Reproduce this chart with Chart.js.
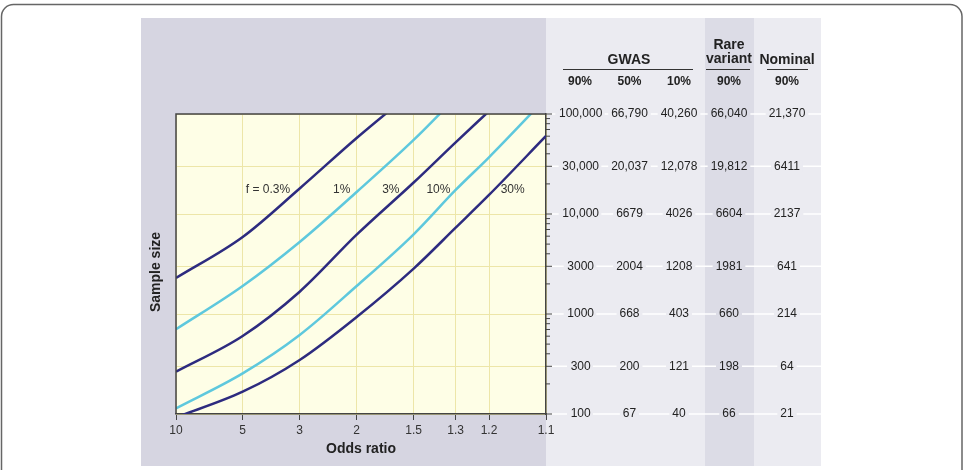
<!DOCTYPE html>
<html>
<head>
<meta charset="utf-8">
<script src="https://cdn.jsdelivr.net/npm/chart.js@4.4.1/dist/chart.umd.min.js"></script>
<style>
  html, body { margin: 0; padding: 0; background: #fff; }
  canvas { display: block; }
</style>
</head>
<body>
<canvas id="myChart" width="967" height="470"></canvas>
<script>
const ctx = document.getElementById("myChart");

// odds ratios where the curves were read, and the x tick labels
const oddsRatios = [10, 5, 3, 2, 1.5, 1.3, 1.2, 1.1];
const oddsTicks = [10, 5, 3, 2, 1.5, 1.3, 1.2, 1.1];

// sample size needed for each allele frequency (null = off the top)
const freqLabels = ["f = 0.3%", "1%", "3%", "10%", "30%"];
const f03 = [2290, 5890, 18000, 57500, 171000, null, null, null];
const f1 = [703, 1905, 5250, 16600, 55000, 145600, null, null];
const f3 = [265, 603, 1671, 6210, 20650, 52100, 106700, null];
const f10 = [114, 255, 617, 1905, 6270, 17400, 36900, 144500];
const f30 = [92.5, 167, 347, 933, 2845, 7300, 15500, 60300];

// table on the right, one row per sample size tick
const gwas90 = [100000, 30000, 10000, 3000, 1000, 300, 100];
const gwas50 = [66790, 20037, 6679, 2004, 668, 200, 67];
const gwas10 = [40260, 12078, 4026, 1208, 403, 121, 40];
const rare90 = [66040, 19812, 6604, 1981, 660, 198, 66];
const nominal90 = [21370, 6411, 2137, 641, 214, 64, 21];
const columnHeads = ["90%", "50%", "10%", "90%", "90%"];

const NAVY = "#2d2b7f";
const CYAN = "#5ec8dd";
const FONT = "'Liberation Sans', Arial, sans-serif";

Chart.defaults.font.family = FONT;

// x axis is log(OR - 1), so the curves are plotted against OR - 1
function orValue(or) {
  return Math.round((or - 1) * 100) / 100;
}
function fmt(n) {
  return n >= 10000 ? n.toLocaleString("en-US") : String(n);
}
function series(vals) {
  return oddsRatios
    .map((or, i) => ({ x: orValue(or), y: vals[i] }))
    .filter((p) => p.y !== null);
}

const curves = [f03, f1, f3, f10, f30];
const curveColors = [NAVY, CYAN, NAVY, CYAN, NAVY];
// where the f labels sit (odds ratio, sample size)
const labelSpots = [[3.94, 17400], [2.2, 17400], [1.66, 17400], [1.37, 17400], [1.15, 17400]];

// table columns: x centre and panel colour behind the numbers
const tableCols = [
  { x: 580, vals: gwas90, bg: "#ebebf1", axis: true },
  { x: 629.5, vals: gwas50, bg: "#ebebf1" },
  { x: 679, vals: gwas10, bg: "#ebebf1" },
  { x: 729, vals: rare90, bg: "#dcdce6" },
  { x: 787, vals: nominal90, bg: "#ebebf1" },
];

const figure = {
  id: "figure",
  beforeDraw(chart) {
    const c = chart.ctx;
    const a = chart.chartArea;
    const ys = chart.scales.y;
    c.save();
    c.fillStyle = "#fff";
    c.fillRect(0, 0, chart.width, chart.height);
    // outer frame
    c.strokeStyle = "#666";
    c.lineWidth = 1.5;
    c.beginPath();
    c.roundRect(1.5, 4.5, 960.5, 520, 12);
    c.stroke();
    // panels
    c.fillStyle = "#d6d5e1";
    c.fillRect(141, 18, a.right - 141, 448);
    c.fillStyle = "#ebebf1";
    c.fillRect(a.right, 18, 821 - a.right, 448);
    c.fillStyle = "#dcdce6";
    c.fillRect(705, 18, 49, 448);
    // plot background
    c.fillStyle = "#fefee6";
    c.fillRect(a.left, a.top, a.right - a.left, a.bottom - a.top);

    // table rows: white rule, gap behind each number, number
    c.font = "12px " + FONT;
    c.textAlign = "center";
    c.textBaseline = "middle";
    gwas90.forEach((v, i) => {
      const py = ys.getPixelForValue(v);
      c.strokeStyle = "#fff";
      c.lineWidth = 1.5;
      c.beginPath();
      c.moveTo(a.right, py);
      c.lineTo(821, py);
      c.stroke();
      tableCols.forEach((col) => {
        const txt = fmt(col.vals[i]);
        const w = c.measureText(txt).width + 6;
        c.fillStyle = col.bg;
        c.fillRect(col.x - w / 2, py - 6, w, 12);
        if (!col.axis) {
          c.fillStyle = "#222";
          c.fillText(txt, col.x, py);
        }
      });
    });

    // headers
    c.fillStyle = "#222";
    c.font = "bold 14px " + FONT;
    c.fillText("GWAS", 629, 60);
    c.fillText("Rare", 729, 45);
    c.fillText("variant", 729, 59);
    c.fillText("Nominal", 787, 60);
    c.strokeStyle = "#333";
    c.lineWidth = 1;
    [[563, 693], [706, 750], [767, 808]].forEach(([x0, x1]) => {
      c.beginPath();
      c.moveTo(x0, 69.5);
      c.lineTo(x1, 69.5);
      c.stroke();
    });
    c.font = "bold 12px " + FONT;
    columnHeads.forEach((h, i) => c.fillText(h, tableCols[i].x, 82));

    // y axis title (axis itself sits on the right)
    c.save();
    c.translate(156, 272);
    c.rotate(-Math.PI / 2);
    c.font = "bold 14px " + FONT;
    c.fillText("Sample size", 0, 0);
    c.restore();
    c.restore();
  },
  afterDatasetsDraw(chart) {
    const c = chart.ctx;
    const a = chart.chartArea;
    const xs = chart.scales.x;
    const ys = chart.scales.y;
    c.save();
    // top and left frame of the plot
    c.strokeStyle = "#444";
    c.lineWidth = 1.5;
    c.beginPath();
    c.moveTo(a.left, a.bottom);
    c.lineTo(a.left, a.top);
    c.lineTo(a.right, a.top);
    c.stroke();
    // minor ticks on the sample size axis
    c.lineWidth = 1;
    [100, 1000, 10000, 100000].forEach((d) => {
      for (let m = 1; m <= 9; m++) {
        const v = m * d;
        if (v > 100000) break;
        const py = ys.getPixelForValue(v);
        const len = m === 1 || m === 3 ? 6 : 4;
        c.beginPath();
        c.moveTo(a.right, py);
        c.lineTo(a.right + len, py);
        c.stroke();
      }
    });
    // curve labels
    c.fillStyle = "#333";
    c.font = "12px " + FONT;
    c.textAlign = "center";
    c.textBaseline = "middle";
    freqLabels.forEach((t, i) => {
      const [or, n] = labelSpots[i];
      c.fillText(t, xs.getPixelForValue(orValue(or)), ys.getPixelForValue(n));
    });
    c.restore();
  },
};

new Chart(ctx, {
  type: "line",
  data: {
    datasets: curves.map((vals, i) => ({
      label: freqLabels[i],
      data: series(vals),
      borderColor: curveColors[i],
      borderWidth: 2.5,
      pointRadius: 0,
      fill: false,
      cubicInterpolationMode: "monotone",
      clip: 0,
    })),
  },
  options: {
    responsive: false,
    animation: false,
    devicePixelRatio: 1,
    layout: { padding: { left: 176, top: 114, right: 0, bottom: 0 } },
    plugins: { legend: { display: false }, tooltip: { enabled: false } },
    scales: {
      x: {
        type: "logarithmic",
        position: "bottom",
        reverse: true,
        min: 0.1,
        max: 9,
        afterBuildTicks: (s) => {
          s.ticks = oddsTicks.map((or) => ({ value: orValue(or) }));
        },
        afterFit: (s) => {
          s.height = 56;
        },
        ticks: {
          callback: (v, i) => String(oddsTicks[i]),
          autoSkip: false,
          maxRotation: 0,
          padding: 3,
          color: "#333",
          font: { size: 12 },
        },
        grid: { color: "#ede6a8", lineWidth: 1, tickLength: 6, tickColor: "#444" },
        border: { color: "#444", width: 1.5 },
        title: {
          display: true,
          text: "Odds ratio",
          color: "#222",
          font: { size: 14, weight: "bold" },
          padding: { top: 0, bottom: 12 },
        },
      },
      y: {
        type: "logarithmic",
        position: "right",
        min: 100,
        max: 100000,
        afterBuildTicks: (s) => {
          s.ticks = gwas90.map((v) => ({ value: v }));
        },
        afterFit: (s) => {
          s.width = 421;
        },
        ticks: {
          callback: (v, i) => fmt(gwas90[i]),
          crossAlign: "center",
          padding: 13,
          color: "#222",
          font: { size: 12 },
        },
        grid: { color: "#ede6a8", lineWidth: 1, drawTicks: false },
        border: { color: "#444", width: 1.5 },
      },
    },
  },
  plugins: [figure],
});
</script>
</body>
</html>
